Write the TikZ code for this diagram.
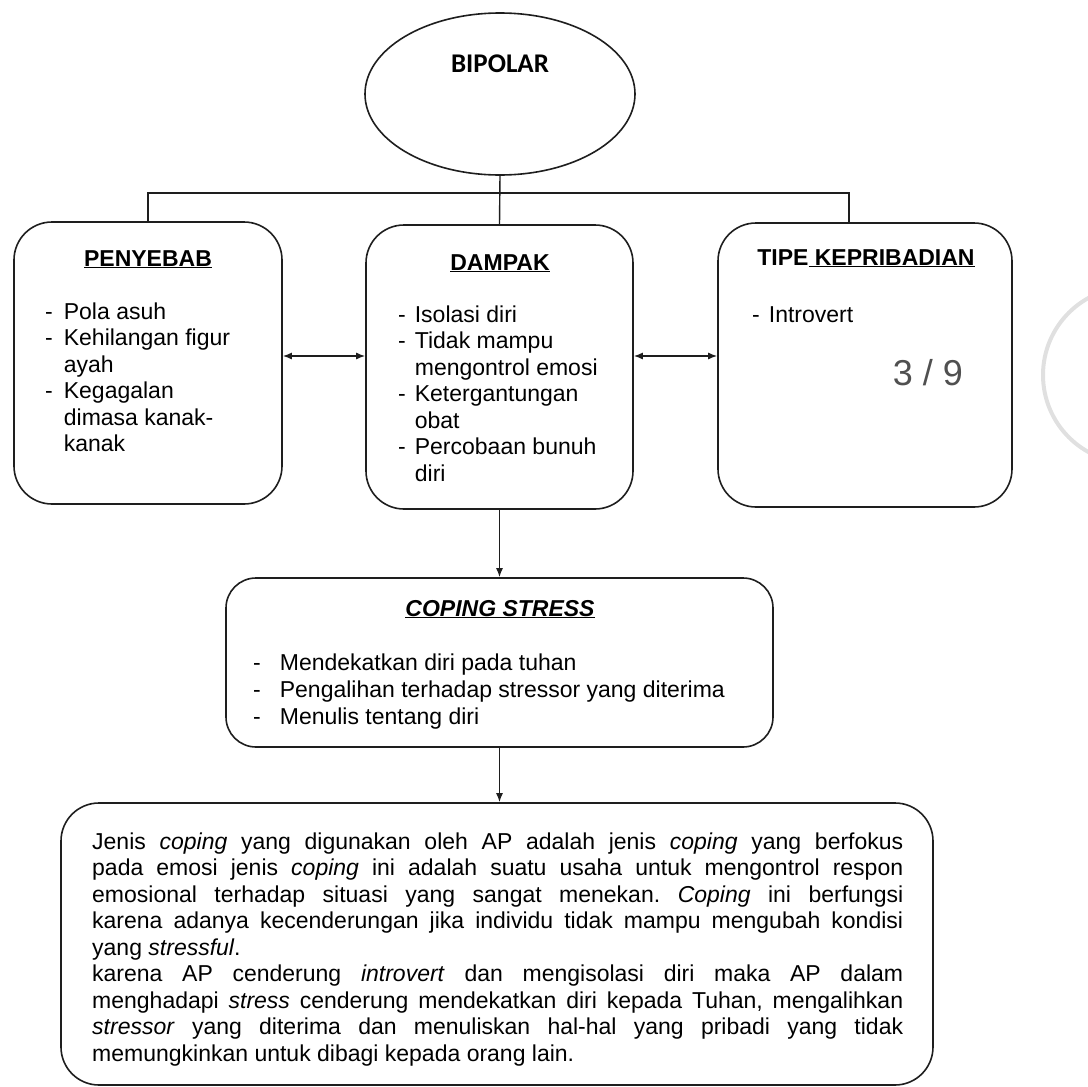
\documentclass[tikz,border=0pt]{standalone}
\usepackage{fontspec}
\setmainfont{Liberation Sans}
\newfontfamily\calibri{Carlito}
\usetikzlibrary{shapes.geometric,arrows.meta}
\definecolor{ink}{HTML}{1E1E1E}
\definecolor{pagegray}{HTML}{505050}
\newcommand{\bodyfont}{\fontsize{23}{26.5}\selectfont}
\newcommand{\jline}[1]{\makebox[\linewidth][s]{#1}}
\frenchspacing

\begin{document}
\begin{tikzpicture}[x=1pt,y=-1pt,
    box/.style={draw=ink,line width=1.6pt,rounded corners=38pt,inner sep=0pt},
    title/.style={anchor=base,inner sep=0pt,font=\bfseries\bodyfont},
    items/.style={anchor=base west,inner sep=0pt,font=\bodyfont},
    link/.style={draw=ink,line width=1.4pt},
    tip/.style={-{Latex[length=9pt,width=7pt]}},
    tips/.style={{Latex[length=9pt,width=7pt]}-{Latex[length=9pt,width=7pt]}}]
  \useasboundingbox (0,0) rectangle (1088,1087);

  % root
  \node[ellipse,draw=ink,line width=1.6pt,minimum width=270pt,minimum height=162pt] (bipolar) at (500,94) {};
  \node[anchor=base,inner sep=0pt,font=\calibri\bfseries\fontsize{27}{30}\selectfont] (bipolarT) at (500,72) {BIPOLAR};

  % three boxes
  \node[box,minimum width=268pt,minimum height=282pt] (penyebab) at (148,363) {};
  \node[box,minimum width=267pt,minimum height=284pt] (dampak) at (499.5,367) {};
  \node[box,minimum width=294pt,minimum height=284pt] (tipe) at (865,365) {};

  \node[title] (penyebabT) at (148,266) {\underline{PENYEBAB}};
  \node[title] (dampakT) at (500,270) {\underline{DAMPAK}};
  \node[title] (tipeT) at (866,265) {TIPE\underline{ KEPRIBADIAN}};

  \node[items] (penyebabL) at (45,319) {\begin{tabular}[t]{@{}l@{\hspace{11pt}}l@{}}
    - & Pola asuh\\
    - & Kehilangan figur\\
      & ayah\\
    - & Kegagalan\\
      & dimasa kanak-\\
      & kanak
  \end{tabular}};
  \node[items] (dampakL) at (398,322) {\begin{tabular}[t]{@{}l@{\hspace{9pt}}l@{}}
    - & Isolasi diri\\
    - & Tidak mampu\\
      & mengontrol emosi\\
    - & Ketergantungan\\
      & obat\\
    - & Percobaan bunuh\\
      & diri
  \end{tabular}};
  \node[items] (tipeL) at (752,322) {\begin{tabular}[t]{@{}l@{\hspace{9pt}}l@{}}
    - & Introvert
  \end{tabular}};

  % coping
  \node[box,rounded corners=30pt,minimum width=547pt,minimum height=169pt] (coping) at (499.5,662.5) {};
  \node[title,font=\bfseries\itshape\bodyfont] (copingT) at (500,616) {\underline{COPING STRESS}};
  \node[items,font=\fontsize{23}{27}\selectfont] (copingL) at (253,670) {\begin{tabular}[t]{@{}l@{\hspace{19pt}}l@{}}
    - & Mendekatkan diri pada tuhan\\
    - & Pengalihan terhadap stressor yang diterima\\
    - & Menulis tentang diri
  \end{tabular}};

  % summary
  \node[box,minimum width=872pt,minimum height=282pt] (ringkasan) at (497,944) {};
  \node[items] (ringkasanL) at (92,849) {\parbox[t]{811pt}{%
    \jline{Jenis \textit{coping} yang digunakan oleh AP adalah jenis \textit{coping} yang berfokus}\\
    \jline{pada emosi jenis \textit{coping} ini adalah suatu usaha untuk mengontrol respon}\\
    \jline{emosional terhadap situasi yang sangat menekan. \textit{Coping} ini berfungsi}\\
    \jline{karena adanya kecenderungan jika individu tidak mampu mengubah kondisi}\\
    yang \textit{stressful}.\\
    \jline{karena AP cenderung \textit{introvert} dan mengisolasi diri maka AP dalam}\\
    \jline{menghadapi \textit{stress} cenderung mendekatkan diri kepada Tuhan, mengalihkan}\\
    \jline{\textit{stressor} yang diterima dan menuliskan hal-hal yang pribadi yang tidak}\\
    memungkinkan untuk dibagi kepada orang lain.}};

  % connectors
  \coordinate (busL) at (148,193);
  \coordinate (busR) at (849,193);
  \coordinate (arrowrow) at (0,356);
  \draw[link] (penyebab.north) -- (busL) -- (busR) -- (busR |- tipe.north);
  \draw[link] (bipolar.south) -- (dampak.north);
  \draw[link,tips] (penyebab.east |- arrowrow) -- (dampak.west |- arrowrow);
  \draw[link,tips] (dampak.east |- arrowrow) -- (tipe.west |- arrowrow);
  \draw[link,tip] (dampak.south) -- (coping.north);
  \draw[link,tip] (coping.south) -- (coping.south |- ringkasan.north);

  % page counter overlay
  \node[anchor=base,inner sep=0pt,font=\fontsize{36}{40}\selectfont,text=pagegray] (halaman) at (928,385) {3 / 9};
  \node[circle,draw=black!12,line width=4pt,minimum size=176pt] (pager) at (1131,375) {};
\end{tikzpicture}
\end{document}
